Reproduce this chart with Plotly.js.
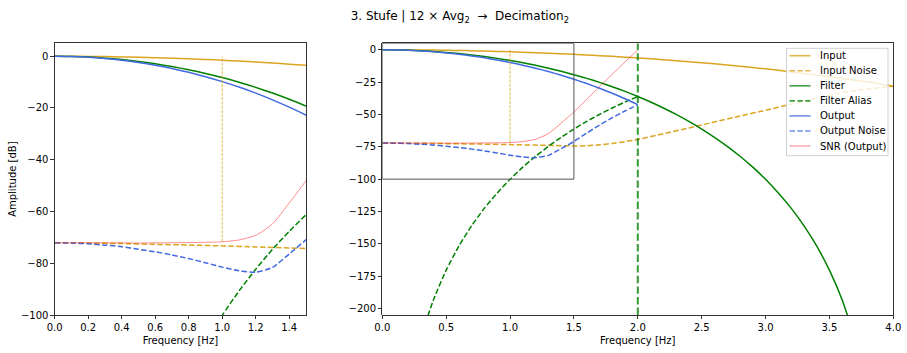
<!DOCTYPE html>
<html>
<head>
<meta charset="utf-8">
<script src="https://cdn.plot.ly/plotly-3.0.1.min.js"></script>
<style>html,body{margin:0;padding:0;background:#fff;}#chart{width:907px;height:353px;}</style>
</head>
<body>
<div id="chart"></div>
<script>
// ---------------- data ----------------
const freqMain = [0,0.1,0.2,0.3,0.4,0.5,0.6,0.7,0.8,0.9,1.0,1.1,1.2,1.3,1.4,1.5,1.6,1.7,1.8,1.9,2.0];

const inputFreq = [0,0.1,0.2,0.3,0.4,0.5,0.6,0.7,0.8,0.9,1.0,1.1,1.2,1.3,1.4,1.5,1.6,1.7,1.8,1.9,2.0,2.2,2.4,2.6,2.8,3.0,3.2,3.4,3.6,3.8,4.0];
const inputDb = [0,-0.02,-0.06,-0.14,-0.25,-0.39,-0.56,-0.76,-0.99,-1.25,-1.55,-1.88,-2.24,-2.63,-3.06,-3.52,-4.01,-4.54,-5.10,-5.70,-6.33,-7.70,-9.22,-10.90,-12.74,-14.74,-17.1,-19.6,-22.2,-25.0,-28.1];

const inputNoiseFreq = [0,0.2,0.4,0.6,0.8,1.0,1.2,1.4,1.5,1.6,1.7,1.8,1.9,2.0,2.2,2.4,2.6,2.8,3.0,3.2,3.4,3.6,3.8,4.0];
const inputNoiseDb = [-72.1,-72.2,-72.4,-72.7,-72.95,-73.3,-73.7,-74.1,-74.3,-74.2,-73.5,-72.4,-71.0,-69.3,-64.9,-60.4,-55.8,-51.2,-46.7,-42.1,-37.4,-33.1,-30.3,-28.1];

const filterFreq = [0,0.1,0.2,0.3,0.4,0.5,0.6,0.7,0.8,0.9,1.0,1.1,1.2,1.3,1.4,1.5,1.6,1.7,1.8,1.9,2.0,2.1,2.2,2.3,2.4,2.5,2.6,2.7,2.8,2.9,3.0,3.1,3.2,3.3,3.4,3.5,3.6,3.7];
const filterDb = [0,-0.08,-0.32,-0.73,-1.29,-2.02,-2.92,-3.99,-5.23,-6.65,-8.25,-10.04,-12.03,-14.22,-16.62,-19.24,-22.09,-25.19,-28.55,-32.19,-36.12,-40.38,-44.99,-49.98,-55.39,-61.26,-67.66,-74.65,-82.31,-90.75,-100.12,-110.67,-122.40,-135.92,-151.64,-170.35,-193.36,-223.2];

const aliasFreq = [0.3,0.4,0.5,0.6,0.7,0.8,0.9,1.0,1.1,1.2,1.3,1.4,1.5,1.6,1.7,1.8,1.9,2.0];
const aliasDb = [-223.2,-193.36,-170.35,-151.64,-135.92,-122.40,-110.67,-100.12,-90.75,-82.31,-74.65,-67.66,-61.26,-55.39,-49.98,-44.99,-40.38,-36.12];

const outputDb = [0,-0.10,-0.38,-0.86,-1.54,-2.41,-3.48,-4.75,-6.22,-7.90,-9.80,-11.92,-14.27,-16.85,-19.68,-22.76,-26.10,-29.73,-33.65,-37.89,-42.45];
const outputNoiseDb = [-72.1,-72.2,-72.5,-73.0,-73.6,-74.6,-75.6,-76.8,-78.2,-79.8,-81.5,-82.9,-83.5,-81.6,-76.4,-70.9,-64.4,-58.2,-52.5,-47.3,-42.5];
const snrDb = [-72.1,-72.1,-72.1,-72.1,-72.1,-72.2,-72.1,-72.1,-72.0,-71.9,-71.7,-71.0,-69.2,-64.8,-56.7,-48.1,-38.3,-28.5,-18.9,-9.4,0];

const passEdgeX = [1, 1];
const passEdgeY = [-71.8, 0];
const nyquistX = [2, 2];
const nyquistY = [-205, 5];

const leftXRange = [0, 1.5];
const leftYRange = [-100, 5];
const rightXRange = [0, 4];
const rightYRange = [-205, 5];

const legendLabels = ['Input','Input Noise','Filter','Filter Alias','Output','Output Noise','SNR (Output)'];

// ---------------- styles ----------------
const W = 907, H = 353;
const cIn = '#DAA520', cFil = '#008000', cOut = '#4169E1', cSnr = 'rgba(255,0,0,0.5)';
const dashM = '5.5px,2.4px';
const styles = [
  {color: cIn, width: 1.5, dash: 'solid'},
  {color: cIn, width: 1.5, dash: dashM},
  {color: cFil, width: 1.5, dash: 'solid'},
  {color: cFil, width: 1.5, dash: dashM},
  {color: cOut, width: 1.5, dash: 'solid'},
  {color: cOut, width: 1.5, dash: dashM},
  {color: cSnr, width: 0.9, dash: 'solid'}
];
const legendColors = ['rgba(218,165,32,0.8)','rgba(218,165,32,0.8)','rgba(0,128,0,0.75)','rgba(0,128,0,0.75)','rgba(65,105,225,0.75)','rgba(65,105,225,0.75)','rgba(255,0,0,0.5)'];

const series = [
  [inputFreq, inputDb],
  [inputNoiseFreq, inputNoiseDb],
  [filterFreq, filterDb],
  [aliasFreq, aliasDb],
  [freqMain, outputDb],
  [freqMain, outputNoiseDb],
  [freqMain, snrDb]
];

const traces = [];
[['x','y'],['x2','y2']].forEach(([xa, ya]) => {
  series.forEach((s, i) => {
    traces.push({
      x: s[0], y: s[1], type: 'scatter', mode: 'lines', xaxis: xa, yaxis: ya,
      name: legendLabels[i], showlegend: false, hoverinfo: 'skip',
      line: {color: styles[i].color, width: styles[i].width, dash: styles[i].dash, shape: 'spline', smoothing: 0.6}
    });
  });
  traces.push({
    x: passEdgeX, y: passEdgeY, type: 'scatter', mode: 'lines', xaxis: xa, yaxis: ya,
    showlegend: false, hoverinfo: 'skip',
    line: {color: cIn, width: 0.8, dash: '3px,1.3px'}
  });
});
traces.push({
  x: nyquistX, y: nyquistY, type: 'scatter', mode: 'lines', xaxis: 'x2', yaxis: 'y2',
  showlegend: false, hoverinfo: 'skip', cliponaxis: true,
  line: {color: 'rgba(0,128,0,0.8)', width: 2, dash: '7.4px,3.2px'}
});

const axBase = {
  ticks: 'outside', ticklen: 3.5, tickwidth: 0.8, tickcolor: '#000',
  showline: true, mirror: true, linewidth: 0.8, linecolor: '#000',
  showgrid: false, zeroline: false, automargin: false,
  tickfont: {size: 10, color: '#000'}
};
const yDom = [1 - 315 / H, 1 - 43.3 / H];

// legend drawn as shapes + annotations
const shapes = [
  {type: 'rect', xref: 'x2', yref: 'y2', x0: leftXRange[0], x1: leftXRange[1], y0: leftYRange[0], y1: leftYRange[1],
   line: {color: '#555', width: 1}, layer: 'above'},
  {type: 'rect', xref: 'paper', yref: 'paper', x0: 786.5 / W, x1: 888 / W, y0: 1 - 155.7 / H, y1: 1 - 48.3 / H,
   fillcolor: 'rgba(255,255,255,0.8)', line: {color: '#d0d0d0', width: 1}, layer: 'above'}
];
const annotations = [];
legendLabels.forEach((lab, i) => {
  const py = 55.7 + i * 15.05;
  shapes.push({type: 'line', xref: 'paper', yref: 'paper', x0: 789.5 / W, x1: 810.5 / W, y0: 1 - py / H, y1: 1 - py / H,
    line: {color: legendColors[i], width: i === 6 ? 1 : 1.6, dash: styles[i].dash === 'solid' ? 'solid' : '5.5px,2.4px'}, layer: 'above'});
  annotations.push({xref: 'paper', yref: 'paper', x: 818 / W, y: 1 - py / H, xanchor: 'left', yanchor: 'middle',
    text: lab, showarrow: false, font: {size: 10, color: '#000'}});
});

const layout = {
  width: W, height: H,
  margin: {l: 0, r: 0, t: 0, b: 0},
  paper_bgcolor: '#fff', plot_bgcolor: '#fff',
  font: {family: 'DejaVu Sans, sans-serif', size: 10, color: '#000'},
  showlegend: false,
  title: {text: '3. Stufe | 12 × Avg<sub>2</sub>\u00a0 →\u00a0 Decimation<sub>2</sub>', x: 0.507, xref: 'paper', xanchor: 'center',
          y: 1 - 16 / H, yref: 'paper', yanchor: 'middle', font: {size: 12, color: '#000'}},
  xaxis: Object.assign({}, axBase, {domain: [54.7 / W, 306 / W], range: leftXRange, tick0: 0, dtick: 0.2, tickformat: '.1f', anchor: 'y',
          title: {text: 'Frequency [Hz]', standoff: 4, font: {size: 10}}}),
  yaxis: Object.assign({}, axBase, {domain: yDom, range: leftYRange, tick0: 0, dtick: 20, anchor: 'x',
          title: {text: 'Amplitude [dB]', standoff: 2, font: {size: 10}}}),
  xaxis2: Object.assign({}, axBase, {domain: [382.3 / W, 893.3 / W], range: rightXRange, tick0: 0, dtick: 0.5, tickformat: '.1f', anchor: 'y2',
          title: {text: 'Frequency [Hz]', standoff: 4, font: {size: 10}}}),
  yaxis2: Object.assign({}, axBase, {domain: yDom, range: rightYRange, tick0: 0, dtick: 25, anchor: 'x2'}),
  shapes: shapes,
  annotations: annotations
};

Plotly.newPlot('chart', traces, layout, {staticPlot: true, displayModeBar: false});
</script>
</body>
</html>
